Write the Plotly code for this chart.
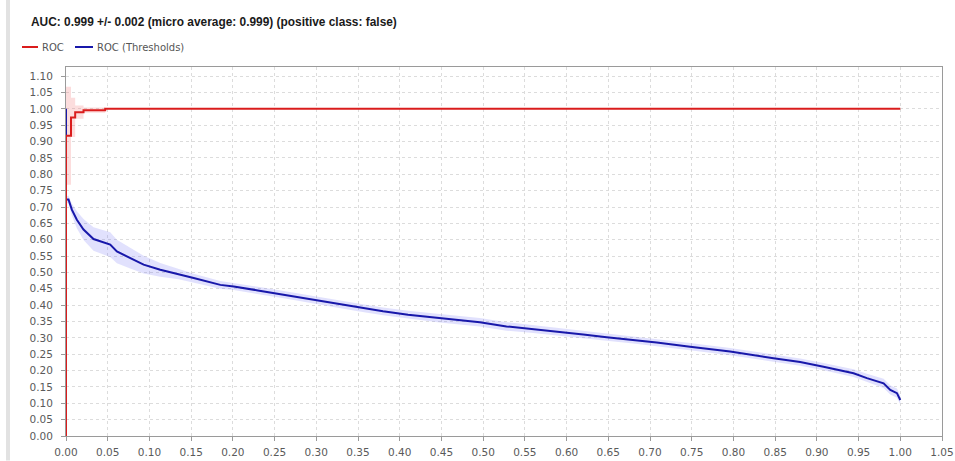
import plotly.graph_objects as go

# ROC curve (mean over folds) and its spread
roc_fpr = [0.0, 0.0, 0.006, 0.006, 0.011, 0.011, 0.021, 0.021, 0.047, 0.047, 1.0]
roc_tpr = [0.0, 0.918, 0.918, 0.974, 0.974, 0.990, 0.990, 0.996, 0.996, 1.0, 1.0]
roc_std = [0.0, 0.15, 0.15, 0.06, 0.06, 0.02, 0.02, 0.008, 0.008, 0.0, 0.0]

# ROC (Thresholds) curve and its spread
thr_fpr = [0.0, 0.0, 0.0, 0.003, 0.007, 0.013, 0.021, 0.033, 0.045, 0.053, 0.061,
           0.077, 0.093, 0.113, 0.135, 0.153, 0.185, 0.201, 0.23, 0.261, 0.29,
           0.321, 0.35, 0.380, 0.41, 0.448, 0.496, 0.528, 0.56, 0.588, 0.62,
           0.648, 0.68, 0.708, 0.748, 0.796, 0.848, 0.88, 0.908, 0.944, 0.96,
           0.98, 0.988, 0.996, 1.0]
thr_val = [0.0, 1.0, 0.723, 0.723, 0.692, 0.661, 0.631, 0.602, 0.592, 0.585, 0.564,
           0.544, 0.524, 0.508, 0.495, 0.483, 0.462, 0.457, 0.445, 0.432, 0.419,
           0.406, 0.393, 0.381, 0.371, 0.360, 0.348, 0.335, 0.327, 0.319, 0.310,
           0.302, 0.294, 0.286, 0.273, 0.258, 0.238, 0.226, 0.212, 0.192, 0.177,
           0.161, 0.141, 0.131, 0.110]
thr_std = [0.0, 0.0, 0.008, 0.012, 0.018, 0.026, 0.032, 0.036, 0.038, 0.038, 0.036,
           0.032, 0.027, 0.021, 0.016, 0.013, 0.012, 0.011, 0.011, 0.011, 0.011,
           0.011, 0.012, 0.012, 0.012, 0.013, 0.013, 0.013, 0.012, 0.012, 0.011,
           0.011, 0.011, 0.011, 0.011, 0.011, 0.011, 0.011, 0.011, 0.012, 0.013,
           0.014, 0.014, 0.014, 0.014]

y_ticks = [round(i * 0.05, 2) for i in range(23)]
x_ticks = [round(i * 0.05, 2) for i in range(22)]

RED = "rgb(218,28,28)"
BLUE = "rgb(24,24,170)"
TICK_FONT = dict(family="DejaVu Sans, Verdana, sans-serif", size=10.5, color="#5a5a5a")


def band(xs, ys, sd):
    upper = [y + s for y, s in zip(ys, sd)]
    lower = [y - s for y, s in zip(ys, sd)]
    return xs + xs[::-1], upper + lower[::-1]


fig = go.Figure()

bx, by = band(roc_fpr, roc_tpr, roc_std)
fig.add_trace(go.Scatter(x=bx, y=by, fill="toself", mode="lines",
                         line=dict(width=0), fillcolor="rgba(245,120,120,0.25)",
                         hoverinfo="skip", showlegend=False))
bx, by = band(thr_fpr, thr_val, thr_std)
fig.add_trace(go.Scatter(x=bx, y=by, fill="toself", mode="lines",
                         line=dict(width=0), fillcolor="rgba(120,120,245,0.22)",
                         hoverinfo="skip", showlegend=False))

fig.add_trace(go.Scatter(x=thr_fpr, y=thr_val, mode="lines", name="ROC (Thresholds)",
                         line=dict(color=BLUE, width=2), showlegend=False))
fig.add_trace(go.Scatter(x=roc_fpr, y=roc_tpr, mode="lines", name="ROC",
                         line=dict(color=RED, width=2), showlegend=False))

axis_common = dict(
    automargin=False,
    showgrid=True, gridcolor="#dcdcdc", griddash="3px,3px", gridwidth=1,
    zeroline=False, showline=True, linecolor="#9a9a9a", linewidth=1, mirror=True,
    ticks="outside", ticklen=4, tickcolor="#9a9a9a",
    tickfont=TICK_FONT,
)

fig.update_xaxes(range=[0, 1.05], tickvals=x_ticks,
                 ticktext=[f"{v:.2f}" for v in x_ticks], ticklabelstandoff=2,
                 **axis_common)
fig.update_yaxes(range=[0, 1.128], tickvals=y_ticks,
                 ticktext=[f"{v:.2f}" for v in y_ticks], ticklabelstandoff=6,
                 **axis_common)

# paper coordinates relative to the plot area (l=66, r=13, t=67, b=24.5)
PW, PH, L, B = 876.0, 369.5, 66.0, 436.5


def px(x):
    return (x - L) / PW


def py(y):
    return (B - y) / PH


shapes = [
    # window edge on the left
    dict(type="rect", xref="paper", yref="paper", x0=px(6), x1=px(10),
         y0=py(461), y1=py(0), fillcolor="#e2e2e2", line=dict(width=0), layer="below"),
    # legend keys
    dict(type="line", xref="paper", yref="paper", x0=px(22), x1=px(38),
         y0=py(47), y1=py(47), line=dict(color=RED, width=2)),
    dict(type="line", xref="paper", yref="paper", x0=px(75), x1=px(93),
         y0=py(47), y1=py(47), line=dict(color=BLUE, width=2)),
]

annotations = [
    dict(text="<b>AUC: 0.999 +/- 0.002 (micro average: 0.999) (positive class: false)</b>",
         xref="paper", yref="paper", x=px(29), y=py(22), xanchor="left", yanchor="middle",
         showarrow=False,
         font=dict(family="Liberation Sans, Arial, sans-serif", size=11.9, color="#1a1a1a")),
    dict(text="ROC", xref="paper", yref="paper", x=px(40), y=py(47),
         xanchor="left", yanchor="middle", showarrow=False,
         font=dict(family="DejaVu Sans, Verdana, sans-serif", size=10, color="#555555")),
    dict(text="ROC (Thresholds)", xref="paper", yref="paper", x=px(95), y=py(47),
         xanchor="left", yanchor="middle", showarrow=False,
         font=dict(family="DejaVu Sans, Verdana, sans-serif", size=10, color="#555555")),
]

fig.update_layout(
    width=955, height=461,
    margin=dict(l=66, r=13, t=67, b=24.5, pad=0, autoexpand=False),
    paper_bgcolor="white", plot_bgcolor="white",
    showlegend=False,
    shapes=shapes, annotations=annotations,
)

fig.write_html("out.html", config={"displayModeBar": False})
